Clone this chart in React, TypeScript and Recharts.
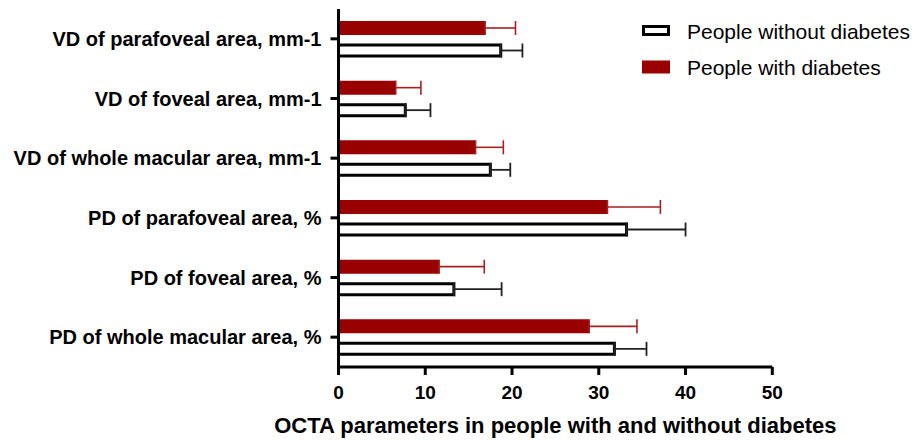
import React from "react";
import { BarChart, Bar, XAxis, YAxis, ErrorBar, Legend } from "recharts";

const categories = [
  "VD of parafoveal area, mm-1",
  "VD of foveal area, mm-1",
  "VD of whole macular area, mm-1",
  "PD of parafoveal area, %",
  "PD of foveal area, %",
  "PD of whole macular area, %",
];
const withDiabetes = [16.9, 6.6, 15.8, 31.0, 11.6, 28.9];
const withDiabetesSd = [3.5, 2.9, 3.2, 6.1, 5.2, 5.5];
const withoutDiabetes = [18.7, 7.7, 17.5, 33.2, 13.3, 31.8];
const withoutDiabetesSd = [2.5, 2.9, 2.3, 6.8, 5.5, 3.7];
const xTicks = [0, 10, 20, 30, 40, 50];

const RED = "#990000";
const FONT = "'Liberation Sans', Arial, sans-serif";

const data = categories.map((name, i) => ({
  name,
  withD: withDiabetes[i],
  withDErr: [0, withDiabetesSd[i]],
  withoutD: withoutDiabetes[i],
  withoutDErr: [0, withoutDiabetesSd[i]],
}));

function LegendBox({ payload }: any) {
  const items = [...(payload || [])].reverse();
  return (
    <svg width={280} height={80} style={{ display: "block" }}>
      {items.map((p: any, i: number) => {
        const y = 18 + i * 36;
        const filled = p.dataKey === "withD";
        return (
          <g key={p.value}>
            {filled ? (
              <rect x={12} y={y - 6.5} width={28} height={13} fill={RED} />
            ) : (
              <rect x={13.5} y={y - 4.5} width={25} height={8} fill="#fff" stroke="#000" strokeWidth={3} />
            )}
            <text x={57} y={y} dy="0.36em" fontSize={21} fontFamily={FONT} fill="#000">
              {p.value}
            </text>
          </g>
        );
      })}
    </svg>
  );
}

export default function App() {
  return (
    <div style={{ position: "absolute", left: 0, top: 0, background: "#fff" }}>
      <BarChart
        width={921}
        height={440}
        data={data}
        layout="vertical"
        margin={{ top: 9, right: 148.7, bottom: 3, left: 0 }}
        barGap={10}
      >
        <XAxis
          type="number"
          domain={[0, 50]}
          ticks={xTicks}
          interval={0}
          height={70}
          axisLine={{ stroke: "#000", strokeWidth: 3 }}
          tickLine={{ stroke: "#000", strokeWidth: 3 }}
          tickSize={8}
          tickMargin={11}
          tick={{ fill: "#000", fontSize: 19, fontWeight: "bold", fontFamily: FONT }}
          label={{
            value: "OCTA parameters in people with and without diabetes",
            position: "insideBottom",
            offset: 4,
            fill: "#000",
            fontSize: 22,
            fontWeight: "bold",
            fontFamily: FONT,
          }}
        />
        <YAxis
          type="category"
          dataKey="name"
          width={338.5}
          interval={0}
          axisLine={{ stroke: "#000", strokeWidth: 3 }}
          tickLine={{ stroke: "#000", strokeWidth: 3 }}
          tickSize={8}
          tickMargin={9}
          tick={{ fill: "#000", fontSize: 20, fontWeight: "bold", fontFamily: FONT }}
        />
        <Legend
          layout="horizontal"
          align="center"
          verticalAlign="middle"
          wrapperStyle={{ top: 13, left: 630, width: 280, height: 80 }}
          content={<LegendBox />}
        />
        <Bar dataKey="withD" name="People with diabetes" fill={RED} barSize={14} isAnimationActive={false}>
          <ErrorBar dataKey="withDErr" direction="x" width={7} stroke="#a82020" strokeWidth={1.6} />
        </Bar>
        <Bar
          dataKey="withoutD"
          name="People without diabetes"
          fill="#fff"
          stroke="#000"
          strokeWidth={3}
          barSize={11}
          isAnimationActive={false}
        >
          <ErrorBar dataKey="withoutDErr" direction="x" width={7} stroke="#222" strokeWidth={1.8} />
        </Bar>
      </BarChart>
    </div>
  );
}
